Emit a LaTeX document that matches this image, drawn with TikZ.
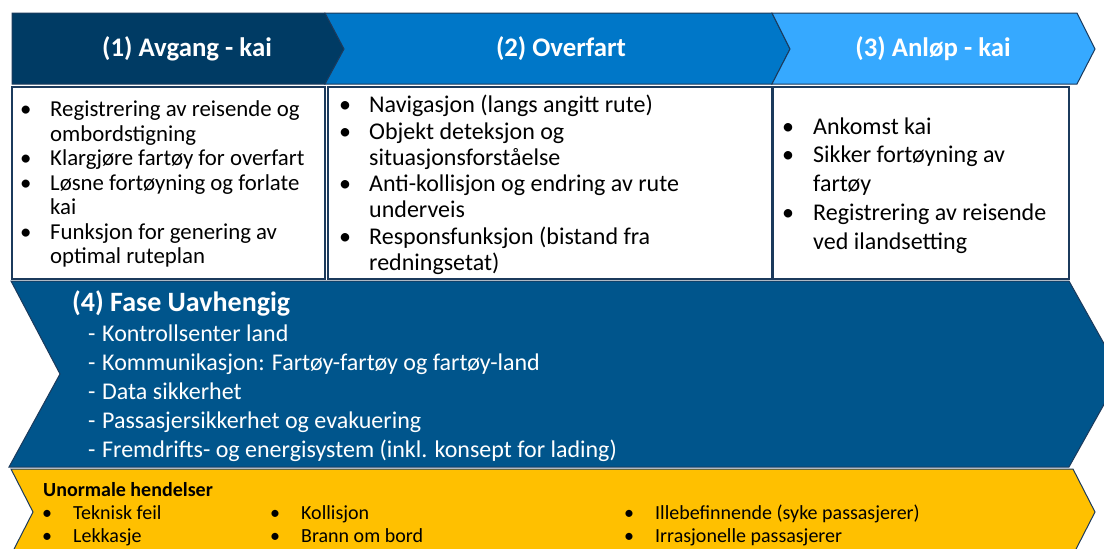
\documentclass[tikz,border=0pt]{standalone}
\usepackage{fontspec}
\setmainfont{Carlito}
\usepackage{array}
\definecolor{cA}{HTML}{003B64}
\definecolor{cB}{HTML}{0077C8}
\definecolor{cC}{HTML}{36A9FF}
\definecolor{cD}{HTML}{00558C}
\definecolor{cY}{HTML}{FFC000}
\definecolor{edge}{HTML}{1B3A5C}
\newcommand{\blist}[2]{\begin{tabular}[t]{@{}p{#1}@{}l@{}}#2\end{tabular}}
\begin{document}
\begin{tikzpicture}[x=1pt,y=-1pt,
  shp/.style={draw=edge, line width=1pt, line join=miter},
  boxs/.style={draw=edge, line width=1.3pt, fill=white},
  ttl/.style={text=white, font=\bfseries\fontsize{26.8}{30}\selectfont, anchor=center, inner sep=0pt},
  lst/.style={anchor=base west, inner sep=0pt, align=left},
]
\useasboundingbox (0,0) rectangle (1104,549);
\fill[white] (0,0) rectangle (1104,549);
% top chevrons
\filldraw[shp, fill=cA] (12,13) -- (325,13) -- (344,49) -- (325,84) -- (12,84) -- cycle;
\filldraw[shp, fill=cB] (325,13) -- (772,13) -- (790,49) -- (772,84) -- (325,84) -- (344,49) -- cycle;
\filldraw[shp, fill=cC] (772,13) -- (1077,13) -- (1095,49) -- (1077,84) -- (772,84) -- (790,49) -- cycle;
\node[ttl] (t1) at (187,49) {(1) Avgang - kai};
\node[ttl] (t2) at (561,49) {(2) Overfart};
\node[ttl] (t3) at (933,49) {(3) Anløp - kai};
% boxes
\draw[boxs] (12,87) rectangle (325,279);
\draw[boxs] (328,87) rectangle (772,279);
\draw[boxs] (773,87) rectangle (1069,279);
\node[lst, font=\fontsize{22.8}{24.5}\selectfont] (l1) at (20,116.7) {\blist{30pt}{
• & Registrering av reisende og\\
  & ombordstigning\\
• & Klargjøre fartøy for overfart\\
• & Løsne fortøyning og forlate\\
  & kai\\
• & Funksjon for genering av\\
  & optimal ruteplan}};
\node[lst, font=\fontsize{24}{26.3}\selectfont] (l2) at (339,112.7) {\blist{30pt}{
• & Navigasjon (langs angitt rute)\\
• & Objekt deteksjon og\\
  & situasjonsforståelse\\
• & Anti-kollisjon og endring av rute\\
  & underveis\\
• & Responsfunksjon (bistand fra\\
  & redningsetat)}};
\node[lst, font=\fontsize{24}{28.75}\selectfont] (l3) at (782,134) {\blist{31pt}{
• & Ankomst kai\\
• & Sikker fortøyning av\\
  & fartøy\\
• & Registrering av reisende\\
  & ved ilandsetting}};
% phase independent band
\filldraw[shp, fill=cD] (11,281) -- (1069,281) -- (1121,374) -- (1069,467) -- (9,467) -- (60,374) -- cycle;
\node[lst, text=white, font=\bfseries\fontsize{28}{30}\selectfont] (h4) at (72,311) {(4) Fase Uavhengig};
\node[lst, text=white, font=\fontsize{24}{29.2}\selectfont] (l4) at (88,341) {\blist{14pt}{
- & Kontrollsenter land\\
- & Kommunikasjon: Fartøy-fartøy og fartøy-land\\
- & Data sikkerhet\\
- & Passasjersikkerhet og evakuering\\
- & Fremdrifts- og energisystem (inkl. konsept for lading)}};
% abnormal events band
\filldraw[shp, fill=cY] (11,469) -- (1073,469) -- (1095,512) -- (1073,555) -- (11,555) -- (33,512) -- cycle;
\node[lst, font=\bfseries\fontsize{20}{22}\selectfont] (h5) at (43,496) {Unormale hendelser};
\node[lst, font=\fontsize{20}{23}\selectfont] (y1) at (42,519) {\blist{31pt}{• & Teknisk feil\\ • & Lekkasje}};
\node[lst, font=\fontsize{20}{23}\selectfont] (y2) at (270,519) {\blist{31pt}{• & Kollisjon\\ • & Brann om bord}};
\node[lst, font=\fontsize{20}{23}\selectfont] (y3) at (624,519) {\blist{31pt}{• & Illebefinnende (syke passasjerer)\\ • & Irrasjonelle passasjerer}};
\end{tikzpicture}
\end{document}
